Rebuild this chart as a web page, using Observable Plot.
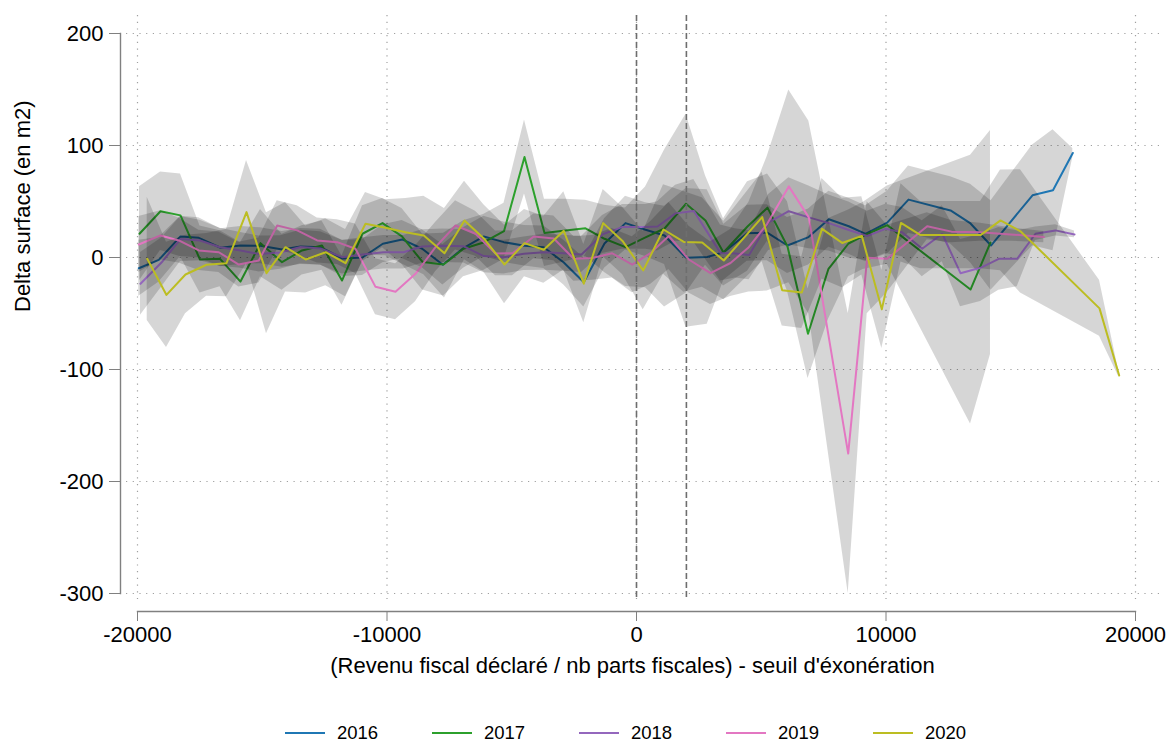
<!DOCTYPE html>
<html>
<head>
<meta charset="utf-8">
<script src="https://cdn.jsdelivr.net/npm/d3@7"></script>
<script src="https://cdn.jsdelivr.net/npm/@observablehq/plot@0.6"></script>
<style>
  body { margin: 0; background: #fff; font-family: "Liberation Sans", Arial, sans-serif; }
  #legend { display: flex; padding-left: 285px; padding-top: 22px; height: 22px; align-items: center; font-size: 18.5px; color: #000; }
  .item { display: flex; align-items: center; width: 147px; }
  .sw { width: 40px; height: 2px; margin-right: 12px; }
</style>
</head>
<body>
<div id="chart"></div>
<div id="legend"></div>
<script>
// ---- data ----
const years = ["2016", "2017", "2018", "2019", "2020"];
const colors = ["#1f77b4", "#2ca02c", "#9467bd", "#e377c2", "#bcbd22"];
const xTicks = [-20000, -10000, 0, 10000, 20000];
const yTicks = [-300, -200, -100, 0, 100, 200];
const thresholds = [0, 2000];
const yTitle = "Delta surface (en m2)";
const xTitle = "(Revenu fiscal déclaré / nb parts fiscales) - seuil d'éxonération";

const x2016 = [-19948,-19146,-18277,-17543,-16673,-15872,-15070,-14200,-13467,-12665,-11784,-10982,-10168,-9391,-8589,-7763,-6922,-6120,-5319,-4489,-3716,-2914,-2113,-1283,-441,361,1123,1984,2834,3499,4437,5238,6052,6894,7708,8509,9178,10048,10902,12585,13387,14208,15872,16693,17487];
const y2016 = [-9.6,-2.1,18.8,17.6,8.7,10.7,10.5,7.2,9.8,9.2,-0.9,0,12.3,16.1,7.8,-6.5,8.7,18.8,13.7,10.5,9.2,-4.5,-22.1,12.5,30.7,24.8,19.7,-0.3,0.4,4.7,21.7,22.2,10.7,18.2,34.1,27.9,21.1,31.2,51.7,42.0,30.4,10.7,55.5,60.0,93.3];
const h2016 = [25,20,18,18,17,17,16,16,16,16,16,16,17,17,17,18,18,18,18,18,19,20,22,22,24,24,26,62,60,25,25,25,25,25,25,25,25,28,30,30,35,40,45,54,4];

const x2017 = [-19920,-19078,-18277,-17495,-16693,-15872,-15070,-14208,-13407,-12605,-11804,-10982,-10180,-9399,-8577,-7735,-6934,-6132,-5311,-4489,-3688,-2846,-2044,-1283,-441,361,1123,1984,2765,3487,4449,5250,6052,6874,7695,8497,9078,10048,13387,14188];
const y2017 = [21.2,41.3,37.6,-1.8,-1.2,-21.5,12.8,-4.2,6.3,10.7,-20.6,21.2,30.7,18.8,-4.0,-6.3,7.8,13.4,23.5,89.7,21.9,24.1,26.1,16.7,9.2,17.9,25.9,48.0,33.1,4.5,27.7,44.5,9.8,-68.1,-10.1,12.5,19.2,28.9,-28.6,13.4];
const h2017 = [42,35,37,30,25,35,30,25,22,22,22,25,22,25,25,28,25,25,25,33,30,28,25,30,35,45,70,80,40,30,40,30,40,40,45,30,30,35,120,100];

const x2018 = [-19880,-19038,-18277,-17495,-16693,-15872,-15130,-14269,-13467,-12665,-11796,-10994,-10140,-9339,-8589,-7763,-6922,-6120,-5319,-4517,-3716,-2914,-2204,-1363,-561,361,842,1563,2297,3367,3968,4513,5295,6104,6906,7708,8509,9246,9980,10649,11451,12253,12986,13788,14521,15258,15992,16794,17555];
const y2018 = [-23.5,-4.5,16.5,15.2,9.2,6.3,3.1,4.5,9.4,8.1,0.3,2.7,4.7,4.7,9.8,10.5,10.0,1.3,0.3,3.3,4.7,3.8,2.7,20.6,27.3,27.3,27.7,39.4,41.6,4.0,3.6,2.2,31.3,41.3,35.8,30.7,24.6,19.2,25.6,22.6,7.8,21.2,-14.0,-9.2,-1.2,-1.2,21.2,24.2,20.6];
const h2018 = [28,22,20,18,17,16,16,15,15,15,15,15,15,15,15,15,15,15,15,15,16,16,16,17,20,20,22,25,28,25,22,22,25,30,28,25,25,22,22,22,25,25,30,30,28,25,6,5,3];

const x2019 = [-19948,-19078,-18345,-17543,-16741,-15940,-15138,-14401,-13600,-12798,-11996,-11263,-10461,-9659,-8858,-8056,-7254,-6453,-5651,-4970,-4116,-3315,-2513,-1776,-974,-173,561,1295,2096,2966,3768,4501,5238,6104,6906,8485,9246,10048,11651,12625,13788,14990,16325];
const y2019 = [11.6,19.7,15.2,6.3,4.7,-6.3,-2.7,28.6,24.2,15.2,13.7,7.8,-26.2,-30.6,-14.6,9.2,28.6,21.2,3.6,3.8,18.8,17.0,-1.2,-0.4,3.8,-6.4,3.9,19.2,-1.8,-14.0,-4.9,9.2,30.1,63.5,35.8,-175.1,-0.3,-1.2,27.9,23.1,22.5,20.6,18.2];
const h2019 = [25,22,20,18,18,20,20,22,22,20,20,22,25,25,25,22,22,20,20,20,20,20,20,20,22,25,28,30,30,28,30,40,60,86,86,125,50,30,12,10,8,6,5];

const x2020 = [-19611,-18838,-18076,-17234,-16433,-15631,-14830,-14068,-13259,-12457,-11663,-10862,-10060,-9258,-8525,-7696,-6894,-6120,-5290,-4489,-3716,-2914,-2113,-1335,-561,269,1082,1896,2633,3499,5038,5840,6625,7435,8244,9030,9832,10601,11383,13788,14589,15391,18557,19347];
const y2020 = [-1.2,-33.4,-15.2,-6.5,-5.1,40.5,-14.0,9.2,-1.8,4.7,-5.1,30.1,26.6,22.6,19.7,3.8,33.1,17.0,-6.3,12.8,6.9,23.8,-23.3,30.7,14.8,-11.6,25.0,13.9,13.4,-2.7,36.1,-29.2,-31.3,25.6,13.0,19.3,-46.3,30.9,20.0,20.0,33.1,23.4,-45.4,-105.3];
const h2020 = [55,47,35,28,30,46,54,40,30,30,30,28,25,30,35,40,35,30,35,30,30,35,35,30,30,35,40,45,40,35,40,32,32,45,40,35,35,35,30,30,45,55,25,2];

// ---- build tables ----
const series = [
  {year: "2016", x: x2016, y: y2016, h: h2016},
  {year: "2017", x: x2017, y: y2017, h: h2017},
  {year: "2018", x: x2018, y: y2018, h: h2018},
  {year: "2019", x: x2019, y: y2019, h: h2019},
  {year: "2020", x: x2020, y: y2020, h: h2020}
];

const fmt = d => String(d);
const marks = [
  Plot.ruleY(yTicks, {stroke: "#a0a0a0", strokeWidth: 1.2, strokeDasharray: "1.2,5.5"}),
  Plot.ruleX(xTicks, {stroke: "#a0a0a0", strokeWidth: 1.2, strokeDasharray: "1.2,5.5"})
];
for (const s of series) {
  const rows = s.x.map((x, i) => ({year: s.year, x, y: s.y[i], lo: s.y[i] - s.h[i], hi: s.y[i] + s.h[i]}));
  marks.push(Plot.areaY(rows, {x: "x", y1: "lo", y2: "hi", fill: "#000", fillOpacity: 0.16}));
  marks.push(Plot.line(rows, {x: "x", y: "y", stroke: "year", strokeWidth: 2}));
}
marks.push(Plot.ruleX(thresholds, {stroke: "#6e6e6e", strokeWidth: 1.6, strokeDasharray: "6,3"}));
marks.push(Plot.frame({anchor: "left", dx: -6, insetTop: 18, insetBottom: 7, stroke: "#808080", strokeWidth: 1.4}));
marks.push(Plot.frame({anchor: "bottom", dy: 11, insetLeft: 11, insetRight: 25, stroke: "#808080", strokeWidth: 1.4}));
marks.push(Plot.axisY({anchor: "left", ticks: yTicks, tickFormat: fmt, tickSize: 11, tickPadding: 6, dx: -6, fontSize: 22, stroke: "#808080", fill: "#000", label: null}));
marks.push(Plot.axisX({anchor: "bottom", ticks: xTicks, tickFormat: fmt, tickSize: 10, tickPadding: 5, dy: 11, fontSize: 22, stroke: "#808080", fill: "#000", label: null}));
marks.push(Plot.text([yTitle], {text: d => d, frameAnchor: "left", dx: -104, dy: 4, rotate: -90, fontSize: 22, fill: "#000"}));
marks.push(Plot.text([xTitle], {text: d => d, frameAnchor: "bottom", dx: -11, dy: 72, fontSize: 22, fill: "#000"}));

const chart = Plot.plot({
  width: 1168,
  height: 700,
  marginLeft: 126,
  marginRight: 8,
  marginTop: 15,
  marginBottom: 100,
  style: {fontFamily: "'Liberation Sans', Arial, sans-serif", background: "#fff", color: "#000"},
  x: {domain: [-20000, 20000], insetLeft: 11, insetRight: 25},
  y: {domain: [-300, 200], insetTop: 18, insetBottom: 7},
  color: {domain: years, range: colors},
  marks
});
document.getElementById("chart").appendChild(chart);

const legend = document.getElementById("legend");
years.forEach((yr, i) => {
  const item = document.createElement("div");
  item.className = "item";
  const sw = document.createElement("div");
  sw.className = "sw";
  sw.style.background = colors[i];
  const lab = document.createElement("span");
  lab.textContent = yr;
  item.appendChild(sw);
  item.appendChild(lab);
  legend.appendChild(item);
});
</script>
</body>
</html>
